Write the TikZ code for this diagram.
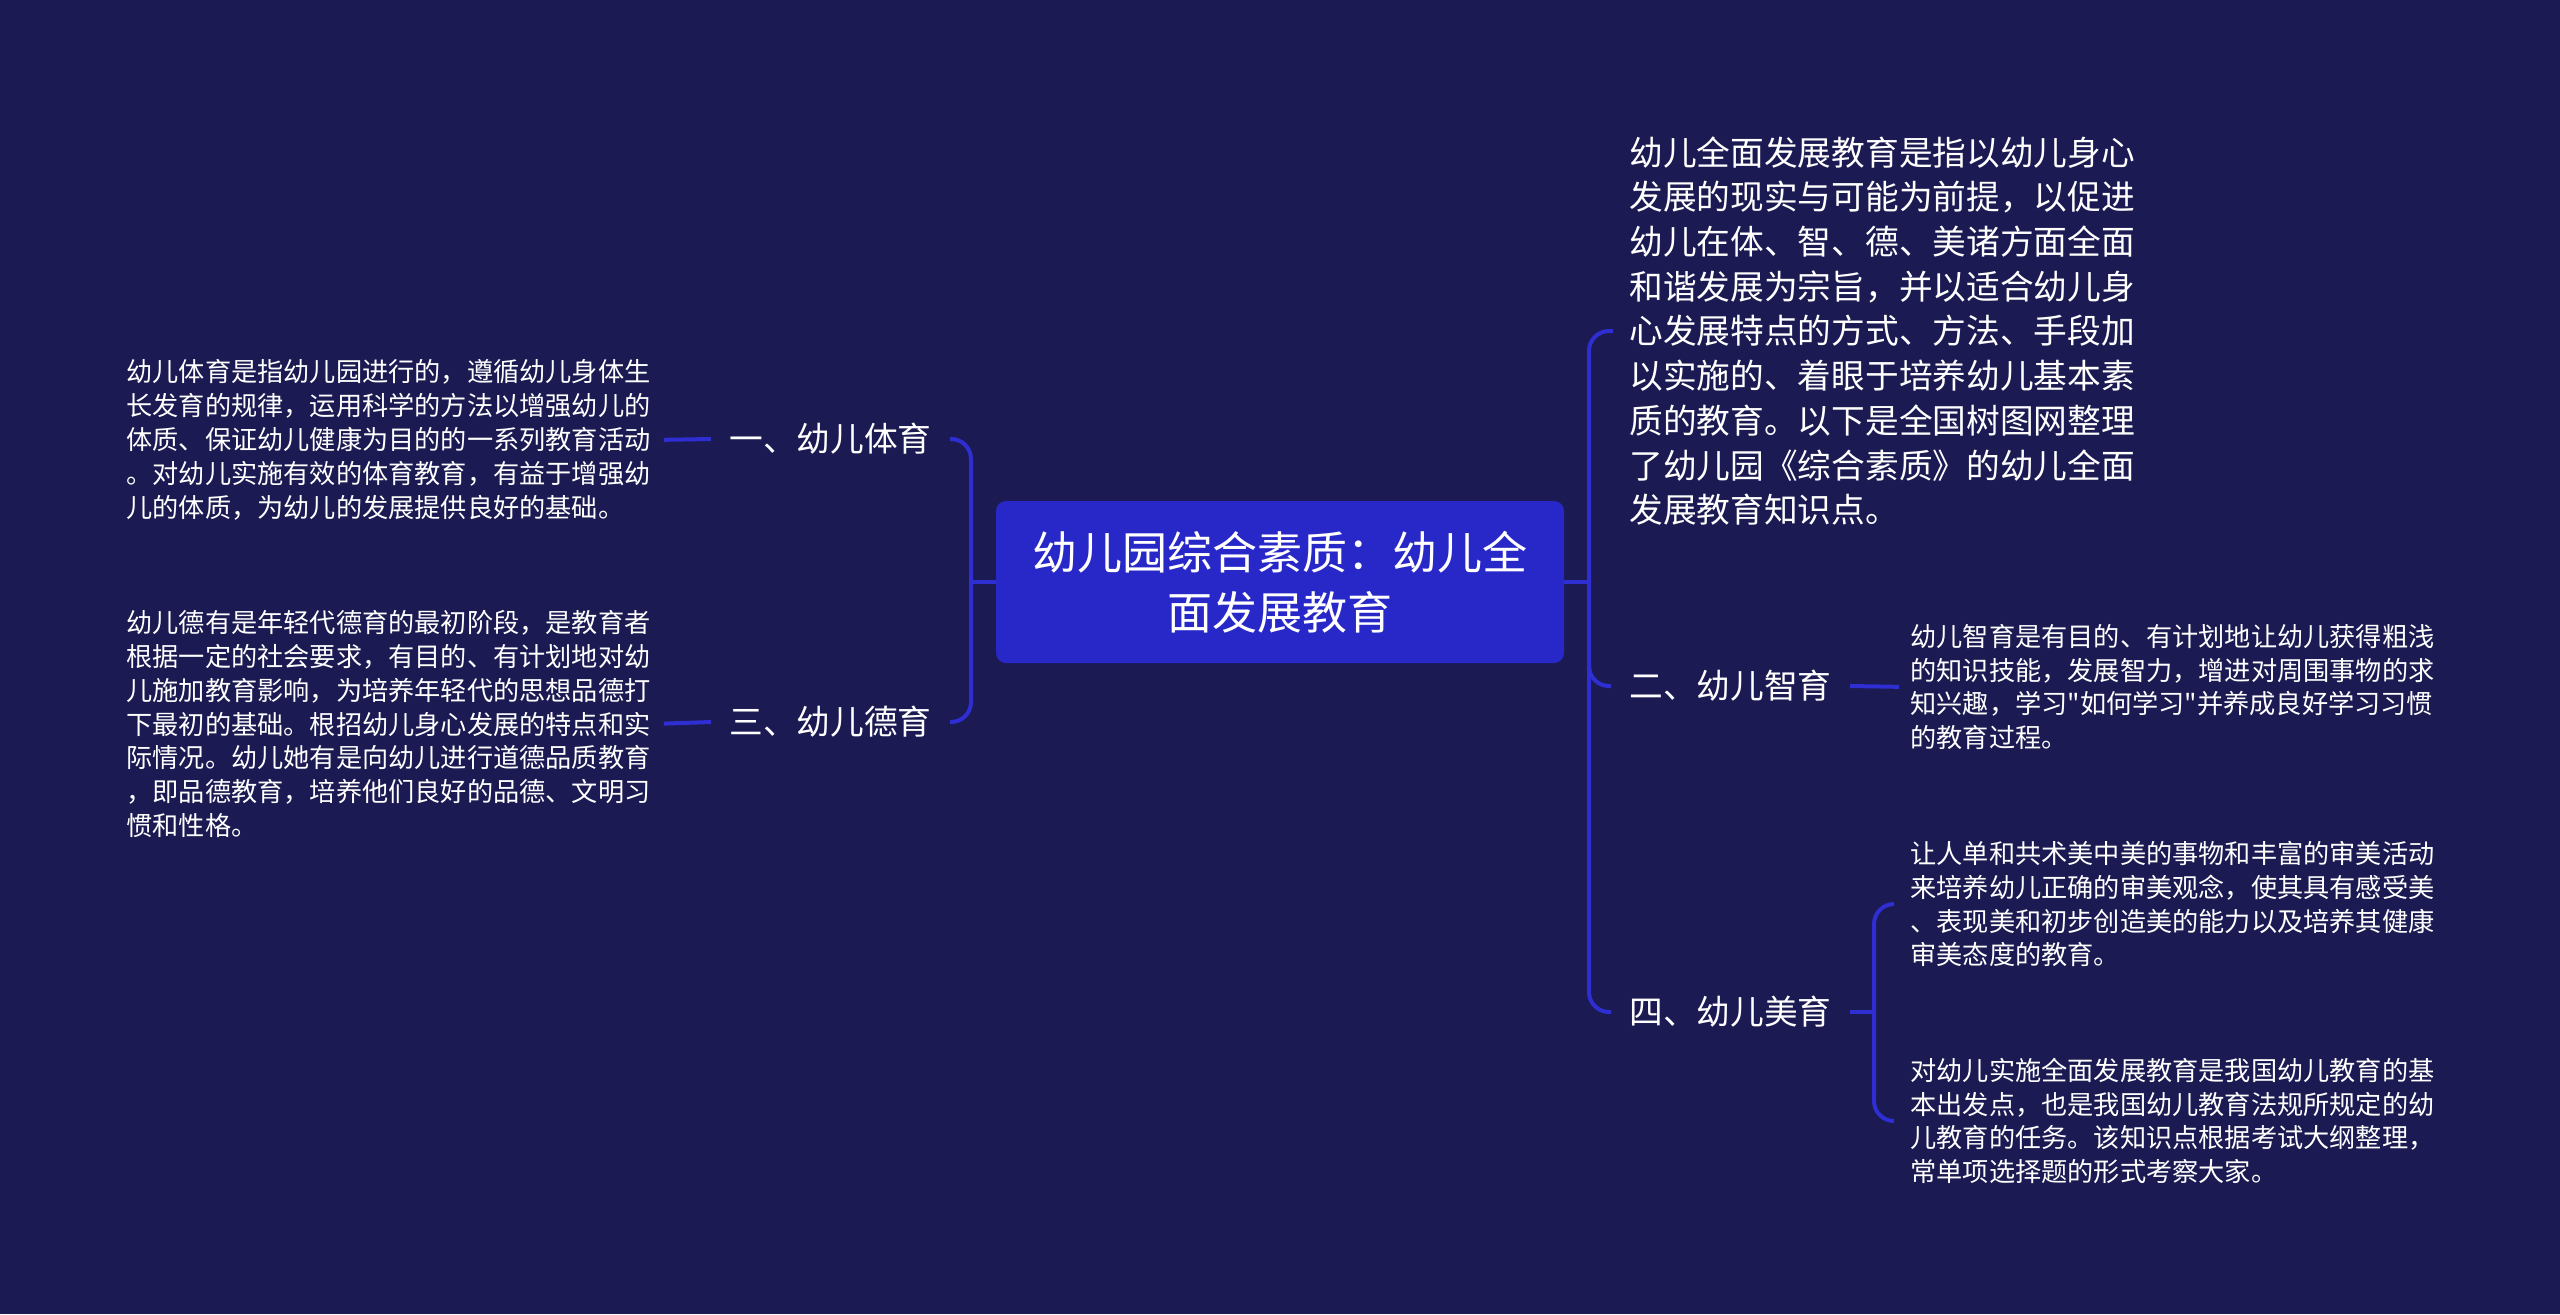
\documentclass[tikz,border=0pt]{standalone}
\usepackage{fontspec}
\setmainfont{Noto Sans CJK SC}[Ligatures=TeXOff]
\definecolor{bg}{HTML}{1B1A52}
\definecolor{lineblue}{HTML}{2E2ED2}
\definecolor{rootblue}{HTML}{2828C8}
\tikzset{
  conn/.style={draw=lineblue, line width=2pt, rounded corners=10pt},
  rootbox/.style={fill=rootblue, rounded corners=5pt, minimum width=284pt, minimum height=81pt,
    text=white, align=center, text width=260pt, inner sep=0pt,
    font=\fontsize{22.5pt}{30pt}\selectfont},
  topic/.style={text=white, inner xsep=9pt, inner ysep=2pt, font=\fontsize{16.85pt}{22pt}\selectfont},
  intro/.style={text=white, inner sep=0pt, align=left, text width=254pt,
    font=\fontsize{16.85pt}{22.35pt}\selectfont},
  leaf/.style={text=white, inner sep=0pt, align=left, text width=263pt,
    font=\fontsize{13.1pt}{16.95pt}\selectfont},
}
\begin{document}
\begin{tikzpicture}[x=0.5pt,y=-0.5pt]
\path[fill=bg] (0,0) rectangle (2560,1314);
% root
\node[rootbox] (root) at (1280,582) {幼儿园综合素质：幼儿全\\面发展教育};
% left topics
\node[topic, anchor=east] (l1) at (950,439) {一、幼儿体育};
\node[topic, anchor=east] (l3) at (950,722) {三、幼儿德育};
% right topics
\node[intro, anchor=west] (intro) at (1629,331) {幼儿全面发展教育是指以幼儿身心\\发展的现实与可能为前提，以促进\\幼儿在体、智、德、美诸方面全面\\和谐发展为宗旨，并以适合幼儿身\\心发展特点的方式、方法、手段加\\以实施的、着眼于培养幼儿基本素\\质的教育。以下是全国树图网整理\\了幼儿园《综合素质》的幼儿全面\\发展教育知识点。};
\node[topic, anchor=west] (r2) at (1611,686) {二、幼儿智育};
\node[topic, anchor=west] (r4) at (1611,1012) {四、幼儿美育};
% leaves
\node[leaf, anchor=west] (t1) at (126,440) {幼儿体育是指幼儿园进行的，遵循幼儿身体生\\长发育的规律，运用科学的方法以增强幼儿的\\体质、保证幼儿健康为目的的一系列教育活动\\。对幼儿实施有效的体育教育，有益于增强幼\\儿的体质，为幼儿的发展提供良好的基础。};
\node[leaf, anchor=west] (t3) at (126,724) {幼儿德有是年轻代德育的最初阶段，是教育者\\根据一定的社会要求，有目的、有计划地对幼\\儿施加教育影响，为培养年轻代的思想品德打\\下最初的基础。根招幼儿身心发展的特点和实\\际情况。幼儿她有是向幼儿进行道德品质教育\\，即品德教育，培养他们良好的品德、文明习\\惯和性格。};
\node[leaf, anchor=west] (t2) at (1910,687) {幼儿智育是有目的、有计划地让幼儿获得粗浅\\的知识技能，发展智力，增进对周围事物的求\\知兴趣，学习"如何学习"并养成良好学习习惯\\的教育过程。};
\node[leaf, anchor=west] (t4a) at (1910,904) {让人单和共术美中美的事物和丰富的审美活动\\来培养幼儿正确的审美观念，使其具有感受美\\、表现美和初步创造美的能力以及培养其健康\\审美态度的教育。};
\node[leaf, anchor=west] (t4b) at (1910,1121) {对幼儿实施全面发展教育是我国幼儿教育的基\\本出发点，也是我国幼儿教育法规所规定的幼\\儿教育的任务。该知识点根据考试大纲整理，\\常单项选择题的形式考察大家。};
% bracket coordinates
\coordinate (bL) at (971,582);
\coordinate (bR) at (1589,582);
\coordinate (b4) at (1874,1012);
% left connectors
\draw[conn] (root.west) -- (bL);
\draw[conn] (l1.east) -- (bL |- l1.east) -- (bL |- l3.east) -- (l3.east);
\draw[conn, shorten <=5.5pt] (t1.east) -- (l1.west);
\draw[conn, shorten <=5.5pt] (t3.east) -- (l3.west);
% right connectors
\draw[conn] (root.east) -- (bR);
\coordinate (introw) at ([xshift=-8pt]intro.west);
\draw[conn] (introw) -- (bR |- introw) -- (bR |- r4.west) -- (r4.west);
\draw[conn] ([yshift=10pt]bR |- r2.west) -- (bR |- r2.west) -- (r2.west);
\draw[conn, shorten >=5.5pt] (r2.east) -- (t2.west);
\draw[conn] (r4.east) -- (b4);
\draw[conn] ([xshift=-8pt]t4a.west) -- (b4 |- t4a.west) -- (b4 |- t4b.west) -- ([xshift=-8pt]t4b.west);
\end{tikzpicture}
\end{document}
